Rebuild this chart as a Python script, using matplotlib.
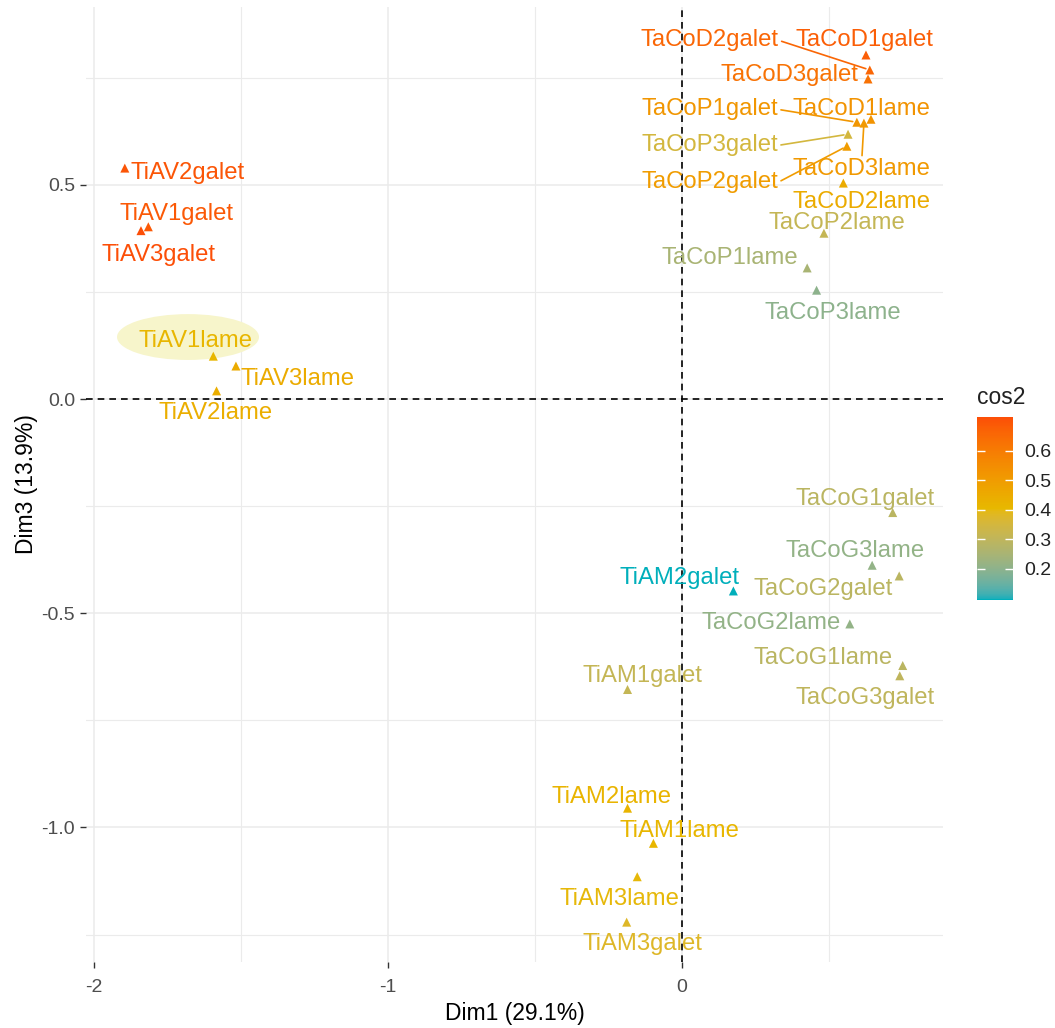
import matplotlib
matplotlib.use("Agg")
import matplotlib.pyplot as plt
from matplotlib.colors import ListedColormap, Normalize, to_rgb
from matplotlib.patches import Ellipse
import matplotlib.cm as cm
import numpy as np

plt.rcParams['font.family'] = ['Liberation Sans', 'DejaVu Sans']

# --- data ---
names = ["TaCoD1galet", "TaCoD2galet", "TaCoD3galet", "TaCoP1galet", "TaCoD1lame",
         "TaCoP3galet", "TaCoD3lame", "TaCoP2galet", "TaCoD2lame", "TaCoP2lame",
         "TaCoP1lame", "TaCoP3lame", "TiAV2galet", "TiAV1galet", "TiAV3galet",
         "TiAV1lame", "TiAV3lame", "TiAV2lame", "TaCoG1galet", "TaCoG3lame",
         "TaCoG2galet", "TiAM2galet", "TaCoG2lame", "TaCoG1lame", "TaCoG3galet",
         "TiAM1galet", "TiAM2lame", "TiAM1lame", "TiAM3lame", "TiAM3galet"]
dim1 = [0.626, 0.639, 0.633, 0.595, 0.643,
        0.565, 0.619, 0.561, 0.549, 0.483,
        0.426, 0.458, -1.895, -1.815, -1.840,
        -1.594, -1.517, -1.583, 0.717, 0.647,
        0.739, 0.175, 0.571, 0.751, 0.741,
        -0.185, -0.185, -0.097, -0.152, -0.188]
dim3 = [0.803, 0.768, 0.747, 0.646, 0.653,
        0.618, 0.644, 0.590, 0.504, 0.387,
        0.306, 0.254, 0.539, 0.402, 0.393,
        0.100, 0.077, 0.019, -0.265, -0.388,
        -0.413, -0.448, -0.525, -0.622, -0.646,
        -0.678, -0.955, -1.037, -1.115, -1.221]
cos2 = [0.68, 0.66, 0.63, 0.52, 0.53,
        0.35, 0.51, 0.50, 0.45, 0.31,
        0.25, 0.20, 0.70, 0.69, 0.715,
        0.41, 0.45, 0.44, 0.29, 0.21,
        0.29, 0.094, 0.21, 0.29, 0.30,
        0.31, 0.42, 0.41, 0.40, 0.38]

# --- label layout (repelled text positions) ---
lab_x = [0.622, 0.095, 0.367, 0.095, 0.612,
         0.095, 0.612, 0.095, 0.612, 0.527,
         0.163, 0.514, -1.680, -1.718, -1.782,
         -1.653, -1.306, -1.588, 0.622, 0.588,
         0.480, -0.007, 0.303, 0.480, 0.622,
         -0.136, -0.241, -0.010, -0.214, -0.136]
lab_y = [0.837, 0.837, 0.756, 0.676, 0.676,
         0.592, 0.536, 0.506, 0.459, 0.410,
         0.329, 0.200, 0.527, 0.431, 0.336,
         0.135, 0.046, -0.033, -0.234, -0.355,
         -0.444, -0.418, -0.523, -0.605, -0.698,
         -0.647, -0.929, -1.008, -1.167, -1.272]
# labels joined to their point by a segment: name -> anchor on the label box
seg_anchor = {"TaCoD2galet": (1, 0.5), "TaCoP1galet": (1, 0.5),
              "TaCoP3galet": (1, 0.5), "TaCoP2galet": (1, 0.5),
              "TaCoD3lame": (0.5, 1)}


# ggplot-style gradient: interpolate the three colours in CIELAB
def _to_lab(rgb):
    c = np.asarray(rgb, float)
    c = np.where(c > 0.04045, ((c + 0.055) / 1.055) ** 2.4, c / 12.92)
    M = np.array([[0.4124, 0.3576, 0.1805], [0.2126, 0.7152, 0.0722],
                  [0.0193, 0.1192, 0.9505]])
    xyz = M @ c / np.array([0.95047, 1.0, 1.08883])
    f = np.where(xyz > 0.008856, np.cbrt(xyz), 7.787 * xyz + 16 / 116)
    return np.array([116 * f[1] - 16, 500 * (f[0] - f[1]), 200 * (f[1] - f[2])])


def _from_lab(lab):
    L, a, b = lab
    fy = (L + 16) / 116
    f = np.array([fy + a / 500, fy, fy - b / 200])
    xyz = np.where(f > 0.2069, f ** 3, (f - 16 / 116) / 7.787) * np.array([0.95047, 1.0, 1.08883])
    Minv = np.array([[3.2406, -1.5372, -0.4986], [-0.9689, 1.8758, 0.0415],
                     [0.0557, -0.2040, 1.0570]])
    c = Minv @ xyz
    c = np.where(c > 0.0031308, 1.055 * np.clip(c, 0, None) ** (1 / 2.4) - 0.055, 12.92 * c)
    return np.clip(c, 0, 1)


stops = [_to_lab(to_rgb(h)) for h in ["#00AFBB", "#E7B800", "#FC4E07"]]
ramp = []
for t in np.linspace(0, 1, 256):
    seg = min(int(t * 2), 1)
    u = t * 2 - seg
    ramp.append(_from_lab(stops[seg] * (1 - u) + stops[seg + 1] * u))
cmap = ListedColormap(ramp)
norm = Normalize(vmin=0.094, vmax=0.715)

fig = plt.figure(figsize=(10.55, 10.28), dpi=100)
ax = fig.add_axes([86/1055, 1-962/1028, 857/1055, 955/1028])
ax.set_xlim(-2.027, 0.888)
ax.set_ylim(-1.314, 0.915)

for s in ax.spines.values():
    s.set_visible(False)
ax.set_xticks([-2, -1, 0])
ax.set_xticklabels(["-2", "-1", "0"])
ax.set_xticks([-1.5, -0.5, 0.5], minor=True)
ax.set_yticks([-1.0, -0.5, 0.0, 0.5])
ax.set_yticklabels(["-1.0", "-0.5", "0.0", "0.5"])
ax.set_yticks([-1.25, -0.75, -0.25, 0.25, 0.75], minor=True)
ax.grid(which="major", color="#EBEBEB", lw=1.1, zorder=0)
ax.grid(which="minor", color="#EBEBEB", lw=0.8, zorder=0)
ax.set_axisbelow(True)
ax.tick_params(which="major", length=4.5, width=1, color="#333333",
               labelsize=14, labelcolor="#4D4D4D", pad=3.5)
ax.tick_params(axis="x", which="major", pad=8)
ax.tick_params(which="minor", length=0)

ax.axhline(0, color="black", ls=(0, (4, 3)), lw=1.2, zorder=1)
ax.axvline(0, color="black", ls=(0, (4, 3)), lw=1.2, zorder=1)

ax.set_xlabel("Dim1 (29.1%)", fontsize=16.5, labelpad=4)
ax.set_ylabel("Dim3 (13.9%)", fontsize=16.5, labelpad=2)

# highlight behind TiAV1lame
ax.add_patch(Ellipse((-1.680, 0.1447), 0.483, 0.107, facecolor="#F7F5CB",
                     edgecolor="none", zorder=1.5))

cols = [cmap(norm(c)) for c in cos2]
ax.scatter(dim1, dim3, c=cos2, cmap=cmap, norm=norm, marker="^", s=42,
           linewidths=0, zorder=3)

for i, n in enumerate(names):
    if n in seg_anchor:
        ax.annotate(n, xy=(dim1[i], dim3[i]), xytext=(lab_x[i], lab_y[i]),
                    ha="center", va="center", fontsize=17.2, color=cols[i],
                    zorder=4,
                    arrowprops=dict(arrowstyle="-", color=cols[i], lw=1.2,
                                    relpos=seg_anchor[n], shrinkA=0, shrinkB=3))
    else:
        ax.text(lab_x[i], lab_y[i], n, ha="center", va="center",
                fontsize=17.2, color=cols[i], zorder=4)

# colour bar
cax = fig.add_axes([977/1055, 1-600/1028, 36/1055, 183/1028])
cb = fig.colorbar(cm.ScalarMappable(norm=norm, cmap=cmap), cax=cax)
cb.outline.set_visible(False)
cb.set_ticks([0.2, 0.3, 0.4, 0.5, 0.6])
cb.set_ticklabels(["0.2", "0.3", "0.4", "0.5", "0.6"])
cax.tick_params(axis="y", which="both", direction="in", length=6, width=1,
                color="white", left=True, right=True, labelsize=14,
                labelcolor="#222222", pad=8)
cax.minorticks_off()
fig.text(977/1055, 1-397/1028, "cos2", fontsize=16.5, ha="left", va="center",
         color="#222222")

fig.savefig("out.png", dpi=100, facecolor="white")
